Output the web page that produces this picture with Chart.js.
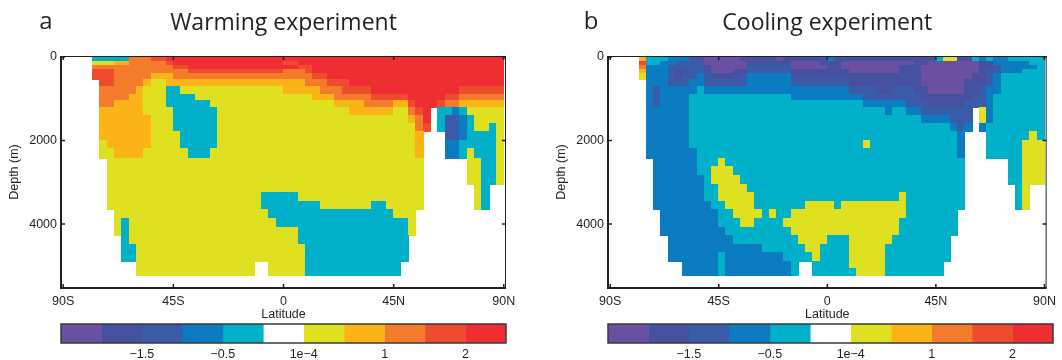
<!DOCTYPE html>
<html>
<head>
<meta charset="utf-8">
<script src="https://cdn.jsdelivr.net/npm/chart.js@4.4.1/dist/chart.umd.min.js"></script>
<style>
  html, body { margin: 0; padding: 0; background: #fff; }
  body { width: 1062px; height: 360px; position: relative; overflow: hidden; }
  canvas { position: absolute; }
  #warmChart { left: 0; top: 0; }
  #coolChart { left: 547px; top: 0; }
  #warmBar { left: 0; top: 318px; }
  #coolBar { left: 547px; top: 318px; }
</style>
</head>
<body>
<canvas id="warmChart" width="531" height="322"></canvas>
<canvas id="coolChart" width="515" height="322"></canvas>
<canvas id="warmBar" width="531" height="42"></canvas>
<canvas id="coolBar" width="515" height="42"></canvas>
<script>
// colour levels (shared colorbar), one letter per level
const levelCodes = ['P', 'I', 'B', 'M', 'C', 'W', 'Y', 'G', 'O', 'T', 'R'];
const levelColors = ['#6b4fa0', '#4650a0', '#3a5ca8', '#0b7cc1', '#00b1c9', '#ffffff',
                     '#dfe01f', '#fbb317', '#f37b2b', '#ef4b2f', '#ee2e31'];
const levelTicks = [2, 4, 6, 8, 10];
const levelTickLabels = ['\u22121.5', '\u22120.5', '1e\u22124', '1', '2'];

// grid of the sections: latitude columns and depth rows
const latEdges = [-90, -87, -84, -81, -78, -75, -72, -69, -66, -63, -60, -57, -54, -51, -48, -45,
                  -42, -39, -36, -33, -30, -27, -24, -21, -18, -15, -12, -9, -6, -3, 0,
                  3, 6, 9, 12, 15, 18, 21, 24, 27, 30, 33, 36, 39, 42, 45,
                  48, 51, 54, 57, 60, 63, 66, 69, 72, 75, 78, 81, 84, 87, 90];
const depthEdges = [0, 100, 200, 300, 400, 527, 700, 900, 1050, 1205, 1400, 1600, 1789, 2000, 2200,
                    2419, 2630, 2840, 3042, 3250, 3450, 3657, 3870, 4070, 4280, 4480, 4690, 4894, 5070, 5238];

const latTicks = [-90, -45, 0, 45, 90];
const latTickLabels = ['90S', '45S', '0', '45N', '90N'];
const depthTicks = [0, 2000, 4000];

// level letter per cell, one string per depth row ('.' = no ocean)
const warming = [
  '....CCCCCO OOTTRRRRRR RRRRRRRRRR RRRRRRRRRR RRRRRRRRRR RRRRRRRRRR',
  '....YYYGGO OOOOTRRRRR RRRRRRRRRR TTRRRRRRRR RRRRRRRRRR RRRRRRRRRR',
  '....OOOOOO OOOOOTTRRR RRRRRRRRRR RRTTRRRRRR RRRRRRRRRR RRRRRRRRRR',
  '....TTTOOO OOOOOOOTTT TTTTTTTTTT OOOTRRRRRR RRRRRRRRRR RRRRRRRRRR',
  '....TTTOOO OOGGGOOOOO OOOOOOOOOO OOOOTTRRRR RRRRRRRRRR RRRRRRRRRR',
  '.....TTOOO OGYYGGGGGG GGGGGGGGGG GGGOOOTTTR RRRRRRRRRR RRRRRRRRRR',
  '.....OOOOO GYYYCCYYYY YYYYYYYYYY GGGGGOOOTT TTRRRRRRRR RRRRTTTTTT',
  '.....OOOOG GYYYCCCCYY YYYYYYYYYY YYYYGGGOOO OOTTTTTRRR RRTTOOOOOO',
  '.....OOGGG GYYYCCCCCC YYYYYYYYYY YYYYYYYGGG GOOOOGGTRR RTOOGGGGGG',
  '.....GGGGG GYYYYCCCCC CYYYYYYYYY YYYYYYYYYG GGGGGYYOTR .CCMCYYYYY',
  '.....GGGGG GGYYYCCCCC CYYYYYYYYY YYYYYYYYYY YYYYYYYGOR .CBBMCYYYY',
  '.....GGGGG GGYYYCCCCC CYYYYYYYYY YYYYYYYYYY YYYYYYYYOT .CBBMCYYCY',
  '.....GGGGG GGYYYYCCCC CYYYYYYYYY YYYYYYYYYY YYYYYYYYG. ..BBMCCCCY',
  '.....YGGGG GGYYYYCCCC CYYYYYYYYY YYYYYYYYYY YYYYYYYYG. ..MMCCCCCY',
  '.....YYGGG GYYYYYYCCC YYYYYYYYYY YYYYYYYYYY YYYYYYYYG. ..MMCYCCCY',
  '......YYYY YYYYYYYYYY YYYYYYYYYY YYYYYYYYYY YYYYYYYYY. .....YYCCY',
  '......YYYY YYYYYYYYYY YYYYYYYYYY YYYYYYYYYY YYYYYYYYY. .....YYCCY',
  '......YYYY YYYYYYYYYY YYYYYYYYYY YYYYYYYYYY YYYYYYYYY. .....YYCCY',
  '......YYYY YYYYYYYYYY YYYYYYYYYY YYYYYYYYYY YYYYYYYYY. ......YC..',
  '......YYYY YYYYYYYYYY YYYYYYYCCC CCYYYYYYYY YYYYYYYYY. ......YC..',
  '......YYYY YYYYYYYYYY YYYYYYYCCC CCCCCYYYYY YYCCYYYYY. ......YC..',
  '.......YYY YYYYYYYYYY YYYYYYYYCC CCCCCCCCCC CCCCCYYY.. ..........',
  '.......YCY YYYYYYYYYY YYYYYYYYYC CCCCCCCCCC CCCCCCCY.. ..........',
  '.......YCY YYYYYYYYYY YYYYYYYYYY YYCCCCCCCC CCCCCCCY.. ..........',
  '........CY YYYYYYYYYY YYYYYYYYYY YYCCCCCCCC CCCCCCC... ..........',
  '........CC YYYYYYYYYY YYYYYYYYYY YYYCCCCCCC CCCCCCC... ..........',
  '........CC YYYYYYYYYY YYYYYYYYYY YYYCCCCCCC CCCCCCC... ..........',
  '.......... YYYYYYYYYY YYYYYY..YY YYYCCCCCCC CCCCCC.... ..........',
  '.......... YYYYYYYYYY YYYYYY..YY YYYCCCCCCC CCCCCC.... ..........'
];

const cooling = [
  '....GCCCMM MBIPPPPPII IIIPIIIIII MIIIIIIIII IIIIICYYII CMCMMCCCCC',
  '....TCCMMB BBBPPPPPPI IIIIIPPPPI IIPPPPPPPP PPIIPPPPPP PIIMMMMMCC',
  '....OMMMBB BBBIPPPPPB BBBBBPPPPP IIPPPPPPPP IIIPPPPPPP PIIBMMMMMC',
  '....GMMMBI IBBIPPPIIB BBBBBIIIII IIIPPPPPPP IIIPPPPPPP PIBBMMMCCC',
  '....YMMMBI BBMBIIIIBM MMMMMIIIII IIIIIIIIII IIIPPPPPPP IIBMCCCCCC',
  '.....MMMBB BMMBBBBBBM MMMMMBBBBB BBBIIIIIII IIIPPPPPPI IIBMCCCCCC',
  '.....MBMMM MMCMMMMMMM MMMMMMMMMM MMMBBBBIIB BBIIPPPPPI IBMMCCCCCC',
  '.....MBMMM MCCCCCCCCC CCCCCMMMMM MMMMMBBBBB BBBIIIIIII BBMCCCCCCC',
  '.....MBMMM MCCCCCCCCC CCCCCCCCCC CCCCCMMMMM MBBBIIIIIB BBMCCCCCCC',
  '.....MMMMM MCCCCCCCCC CCCCCCCCCC CCCCCCCCMC CMMBBBBBBB .YMCCCCCCC',
  '.....MMMMM MCCCCCCCCC CCCCCCCCCC CCCCCCCCCC CCCMMMMBBB .YMCCCCCCC',
  '.....MMMMM MCCCCCCCCC CCCCCCCCCC CCCCCCCCCC CCCCCCCMBM .MCCCCCCCC',
  '.....MMMMM MCCCCCCCCC CCCCCCCCCC CCCCCCCCCC CCCCCCCCM. ..CCCCCCYC',
  '.....MMMMM MCCCCCCCCC CCCCCCCCCC CCCCCYCCCC CCCCCCCCM. ..CCCCCYYY',
  '.....MMMMM MMCCCCCCCC CCCCCCCCCC CCCCCCCCCC CCCCCCCCM. ..CCCCCYYY',
  '......MMMM MMCCCYCCCC CCCCCCCCCC CCCCCCCCCC CCCCCCCCC. .....CCYYY',
  '......MMMM MMCCYYYCCC CCCCCCCCCC CCCCCCCCCC CCCCCCCCC. .....CCYYY',
  '......MMMM MMMCYYYYCC CCCCCCCCCC CCCCCCCCCC CCCCCCCCC. .....CCYYY',
  '......MMMM MMMCCYYYYC CCCCCCCCCC CCCCCCCCCC CCCCCCCCC. ......CY..',
  '......MMMM MMMCCYYYYY CCCCCCCCCC CCCCCCCCCC YCCCCCCCC. ......CY..',
  '......MMMM MMMMCCYYYY CCCCCCCYYY YCYYYYYYYY YCCCCCCCC. ......CY..',
  '.......MMM MMMMMCCYYY YCYCCYYYYY YYYYYYYYYY YCCCCCCC.. ..........',
  '.......MMM MMMMMCCCYY CCCCYYYYYY YYYYYYYYYY CCCCCCCC.. ..........',
  '.......MMM MMMMMMCCCC CCCCCYYYYY YYYYYYYYYY CCCCCCCC.. ..........',
  '........MM MMMMMMMCCC CCCCCCYYYY CCCYYYYYYC CCCCCCC... ..........',
  '........MM MMMMMMMMMM MCCCCCCYYC CCCYYYYYCC CCCCCCC... ..........',
  '........MM MMMMMCMMMM MMMMCCCCYC CCCYYYYYCC CCCCCCC... ..........',
  '.......... MMMMMCMMMM MMMMMC..CC CCCYYYYYCC CCCCCC.... ..........',
  '.......... MMMMMCMMMM MMMMMC..CC CCCCYYYYCC CCCCCC.... ..........'
];

const inkColor = '#231f20';
const tickFont = { family: '"Liberation Sans", Arial, sans-serif', size: 12.5 };

// draws the filled section cells plus the boxed frame with inward ticks
function makeField(grid, letter, letterX) {
  return {
    id: 'field',
    beforeDatasetsDraw(chart) {
      const { ctx, scales: { x, y } } = chart;
      ctx.save();
      grid.forEach((rowText, r) => {
        const row = rowText.replace(/ /g, '');
        const y0 = Math.floor(y.getPixelForValue(depthEdges[r]));
        const y1 = Math.ceil(y.getPixelForValue(depthEdges[r + 1]));
        for (let k = 0; k < row.length; k++) {
          const lvl = levelCodes.indexOf(row[k]);
          if (lvl < 0) continue;
          const x0 = Math.floor(x.getPixelForValue(latEdges[k]));
          const x1 = Math.ceil(x.getPixelForValue(latEdges[k + 1]));
          ctx.fillStyle = levelColors[lvl];
          ctx.fillRect(x0, y0, x1 - x0, y1 - y0);
        }
      });
      ctx.restore();
    },
    afterDraw(chart) {
      const { ctx, chartArea: a, scales: { x, y } } = chart;
      ctx.save();
      ctx.strokeStyle = inkColor;
      ctx.lineWidth = 1;
      ctx.beginPath();
      ctx.moveTo(a.left, a.top + 0.5);
      ctx.lineTo(a.right, a.top + 0.5);
      ctx.moveTo(a.right - 0.5, a.top);
      ctx.lineTo(a.right - 0.5, a.bottom);
      ctx.stroke();
      ctx.lineWidth = 2;
      ctx.beginPath();
      ctx.moveTo(a.left, a.top);
      ctx.lineTo(a.left, a.bottom);
      ctx.lineTo(a.right, a.bottom);
      ctx.stroke();
      ctx.lineWidth = 1.5;
      ctx.beginPath();
      latTicks.forEach((v) => {
        const px = x.getPixelForValue(v);
        ctx.moveTo(px, a.bottom);
        ctx.lineTo(px, a.bottom - 4);
        ctx.moveTo(px, a.top);
        ctx.lineTo(px, a.top + 4);
      });
      depthTicks.forEach((v) => {
        const py = y.getPixelForValue(v);
        ctx.moveTo(a.left, py);
        ctx.lineTo(a.left + 4, py);
        ctx.moveTo(a.right, py);
        ctx.lineTo(a.right - 4, py);
      });
      ctx.stroke();
      // panel letter
      ctx.fillStyle = inkColor;
      ctx.font = '24px "Open Sans"';
      ctx.textAlign = 'center';
      ctx.textBaseline = 'alphabetic';
      ctx.fillText(letter, letterX, 29);
      ctx.restore();
    }
  };
}

function sectionChart(id, grid, title, letter, letterX, padRight) {
  return new Chart(document.getElementById(id), {
    type: 'scatter',
    data: { datasets: [{ data: [] }] },
    options: {
      responsive: false,
      animation: false,
      layout: { padding: { left: 0, right: padRight, top: 0, bottom: 0 } },
      plugins: {
        legend: { display: false },
        tooltip: { enabled: false },
        title: {
          display: true,
          text: title,
          fullSize: false,
          color: inkColor,
          font: { family: '"Open Sans"', size: 23, weight: 'normal' },
          padding: { top: 10, bottom: 18.4 }
        }
      },
      scales: {
        x: {
          type: 'linear',
          min: -90.9,
          max: 90.9,
          grid: { display: false, drawTicks: false },
          border: { display: false },
          afterBuildTicks: (s) => { s.ticks = latTicks.map((v) => ({ value: v })); },
          afterFit: (s) => { s.height = 34; },
          ticks: {
            autoSkip: false,
            maxRotation: 0,
            padding: 6,
            color: inkColor,
            font: tickFont,
            callback: (v, i) => latTickLabels[i]
          },
          title: {
            display: true,
            text: 'Latitude',
            color: inkColor,
            font: tickFont,
            padding: { top: 0, bottom: 0 }
          }
        },
        y: {
          type: 'linear',
          reverse: true,
          min: -24,
          max: 5530,
          grid: { display: false, drawTicks: false },
          border: { display: false },
          afterBuildTicks: (s) => { s.ticks = depthTicks.map((v) => ({ value: v })); },
          afterFit: (s) => { s.width = 61; },
          ticks: {
            padding: 4,
            color: inkColor,
            font: tickFont,
            callback: (v) => String(v)
          },
          title: {
            display: true,
            text: 'Depth (m)',
            color: inkColor,
            font: tickFont,
            padding: { top: 7, bottom: 0 }
          }
        }
      }
    },
    plugins: [makeField(grid, letter, letterX)]
  });
}

// colorbar: stacked horizontal bar, one segment per level
const outlinePlugin = {
  id: 'outline',
  afterDatasetsDraw(chart) {
    const { ctx, chartArea: a } = chart;
    ctx.save();
    ctx.strokeStyle = '#3a3a3a';
    ctx.lineWidth = 1.5;
    ctx.strokeRect(a.left, a.top, a.right - a.left, a.bottom - a.top);
    ctx.restore();
  }
};

function colorbarChart(id, padRight) {
  return new Chart(document.getElementById(id), {
    type: 'bar',
    data: {
      labels: ['levels'],
      datasets: levelColors.map((c) => ({
        data: [1],
        backgroundColor: c,
        borderWidth: 0,
        barPercentage: 1,
        categoryPercentage: 1
      }))
    },
    options: {
      indexAxis: 'y',
      responsive: false,
      animation: false,
      layout: { padding: { left: 61, right: padRight, top: 6, bottom: 0 } },
      plugins: { legend: { display: false }, tooltip: { enabled: false } },
      scales: {
        x: {
          type: 'linear',
          stacked: true,
          min: 0,
          max: levelColors.length,
          grid: { display: false, drawTicks: false },
          border: { display: false },
          afterBuildTicks: (s) => { s.ticks = levelTicks.map((v) => ({ value: v })); },
          afterFit: (s) => { s.height = 17; },
          ticks: {
            autoSkip: false,
            maxRotation: 0,
            padding: 4,
            color: inkColor,
            font: tickFont,
            callback: (v, i) => levelTickLabels[i]
          }
        },
        y: { stacked: true, display: false }
      }
    },
    plugins: [outlinePlugin]
  });
}

sectionChart('warmChart', warming, 'Warming experiment', 'a', 46, 25);
sectionChart('coolChart', cooling, 'Cooling experiment', 'b', 44, 9);
colorbarChart('warmBar', 25);
colorbarChart('coolBar', 9);
</script>
</body>
</html>
